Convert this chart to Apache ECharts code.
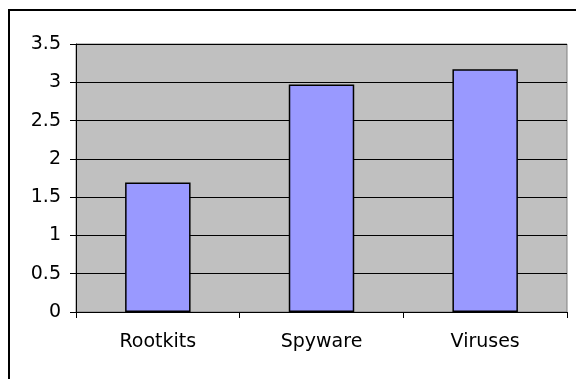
<!DOCTYPE html>
<html>
<head>
<meta charset="utf-8">
<script src="https://cdn.jsdelivr.net/npm/echarts@6/dist/echarts.min.js"></script>
<style>
  html, body { margin: 0; padding: 0; background: #fff; }
  #main { width: 576px; height: 379px; }
</style>
</head>
<body>
<div id="main"></div>
<script>
var categories = ['Rootkits', 'Spyware', 'Viruses'];
var values = [1.69, 2.97, 3.17];

var chart = echarts.init(document.getElementById('main'));
var option = {
    animation: false,
    // chart frame (only left and top edges fall inside the picture)
    graphic: [{
        type: 'rect',
        shape: { x: 9, y: 10, width: 620, height: 420 },
        style: { fill: 'none', stroke: '#000', lineWidth: 2 },
        silent: true
    }],
    grid: {
        left: 76, right: 9, top: 44, bottom: 67,
        show: true,
        backgroundColor: '#c0c0c0',
        borderColor: '#808080',
        borderWidth: 1
    },
    xAxis: {
        type: 'category',
        data: categories,
        axisLine: { lineStyle: { color: '#000', width: 1 } },
        axisTick: { show: true, length: 6, alignWithLabel: false, lineStyle: { color: '#000' } },
        axisLabel: {
            color: '#000', fontFamily: 'DejaVu Sans', fontSize: 19, margin: 21
        }
    },
    yAxis: {
        type: 'value',
        min: 0, max: 3.5, interval: 0.5,
        axisLine: { show: true, lineStyle: { color: '#000', width: 1 } },
        axisTick: { show: true, length: 6, lineStyle: { color: '#000' } },
        splitLine: { lineStyle: { color: '#000', width: 1 } },
        axisLabel: {
            color: '#000', fontFamily: 'DejaVu Sans', fontSize: 19, margin: 15
        }
    },
    series: [{
        type: 'bar',
        data: values,
        barWidth: '40%',
        itemStyle: {
            color: '#9999ff',
            borderColor: '#000',
            borderWidth: 1.5
        }
    }]
};
chart.setOption(option);
</script>
</body>
</html>
